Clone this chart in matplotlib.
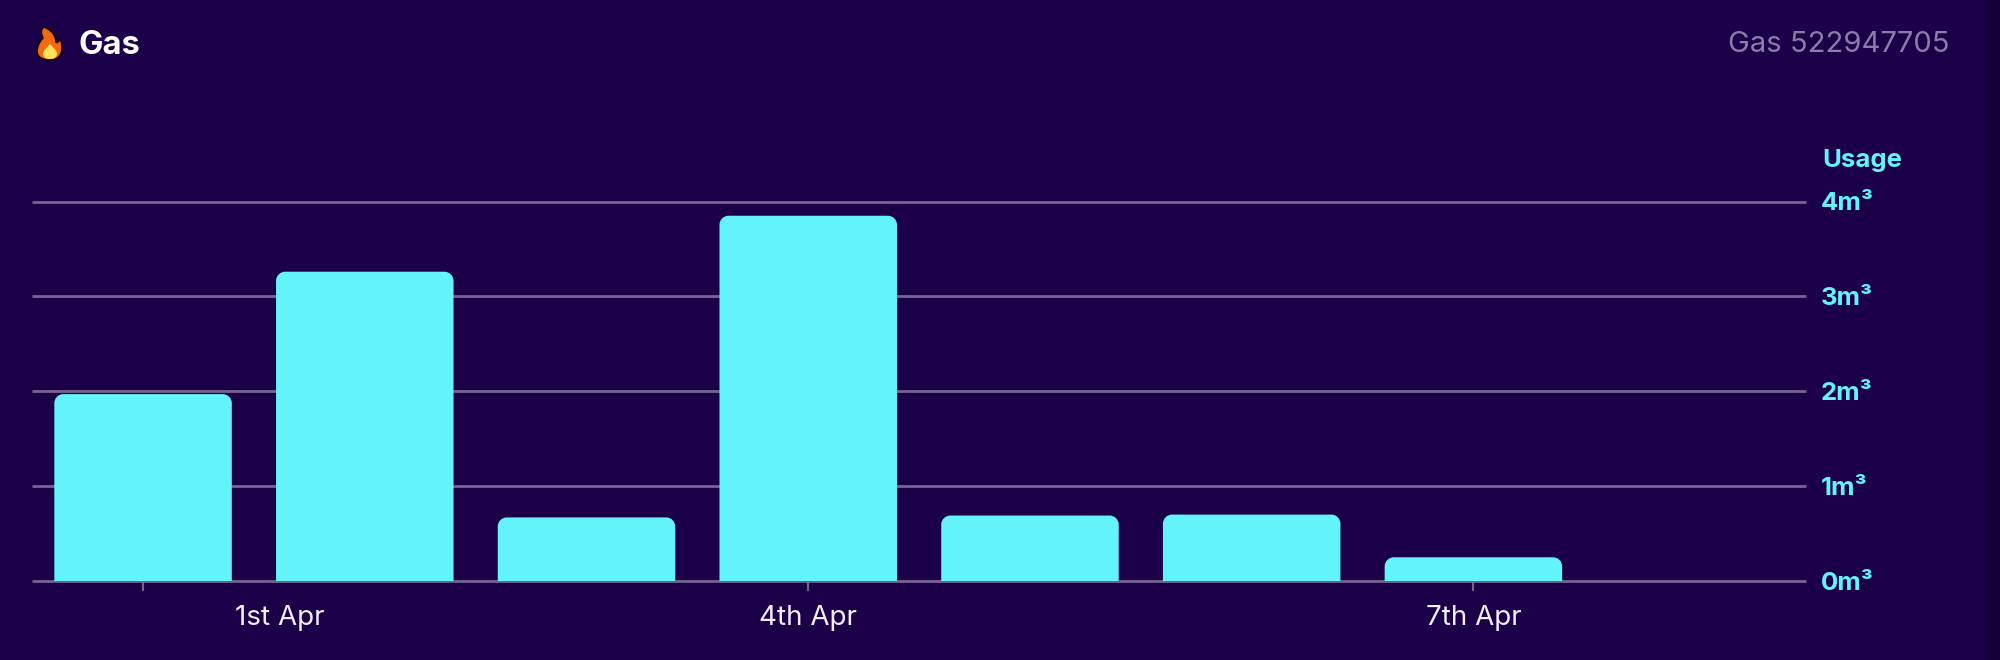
import matplotlib
matplotlib.use("Agg")
import matplotlib.pyplot as plt
from matplotlib.patches import PathPatch, Rectangle
from matplotlib.path import Path

days = ["31st Mar", "1st Apr", "2nd Apr", "3rd Apr", "4th Apr", "5th Apr", "6th Apr", "7th Apr"]
usage = [1.97, 3.26, 0.67, 3.85, 0.69, 0.70, 0.25]
y_ticks = [0, 1, 2, 3, 4]
y_labels = ["0m³", "1m³", "2m³", "3m³", "4m³"]
x_tick_pos = [0, 3, 6]
x_tick_labels = ["1st Apr", "4th Apr", "7th Apr"]
x_label_offsets = [137, 0, 0]

BG = "#1B0049"
EDGE = "#140036"
CYAN = "#62F3FB"
GRID = "#75648F"
FONT = ["Inter", "DejaVu Sans"]

W, H = 2000, 660
L, R, B, T = 32.2, 1806, 581, 201.5

fig = plt.figure(figsize=(W / 100, H / 100), dpi=100, facecolor=BG)
ax = fig.add_axes([L / W, 1 - B / H, (R - L) / W, (B - T) / H], facecolor="none")
ax.set_xlim(-0.5, 7.5)
ax.set_ylim(0, 4)
for s in ax.spines.values():
    s.set_visible(False)

for yv in y_ticks:
    ax.axhline(yv, color=GRID, lw=2, zorder=1, clip_on=False, solid_capstyle="butt")

pitch = (R - L) / 8
bar_w = 177.5 / pitch
rx = 9 / pitch
ry = 9 / ((B - T) / 4)
k = 0.45
for i, v in enumerate(usage):
    x0, x1 = i - bar_w / 2, i + bar_w / 2
    verts = [(x0, 0), (x0, v - ry), (x0, v - ry * k), (x0 + rx * k, v), (x0 + rx, v),
             (x1 - rx, v), (x1 - rx * k, v), (x1, v - ry * k), (x1, v - ry), (x1, 0), (x0, 0)]
    codes = [Path.MOVETO, Path.LINETO, Path.CURVE4, Path.CURVE4, Path.CURVE4,
             Path.LINETO, Path.CURVE4, Path.CURVE4, Path.CURVE4, Path.LINETO, Path.CLOSEPOLY]
    ax.add_patch(PathPatch(Path(verts, codes), fc=CYAN, ec="none", zorder=2))

ax.set_yticks([])
ax.set_xticks(x_tick_pos)
ax.set_xticklabels([])
ax.tick_params(axis="x", length=7.5, width=1.5, color=GRID)

ov = fig.add_axes([0, 0, 1, 1], facecolor="none")
ov.set_xlim(0, W)
ov.set_ylim(H, 0)
ov.axis("off")

ov.add_patch(Rectangle((1985, 0), 15, H, fc=EDGE, ec="none"))

for yv, lab in zip(y_ticks, y_labels):
    ov.text(1821, B - yv * (B - T) / 4 + 2, lab, color=CYAN, fontsize=18.5, fontweight="bold",
            family=FONT, ha="left", va="center")
ov.text(1822, 160, "Usage", color=CYAN, fontsize=18.5, fontweight="bold", family=FONT,
        ha="left", va="center")

for pos, lab, off in zip(x_tick_pos, x_tick_labels, x_label_offsets):
    ov.text(L + (pos + 0.5) * pitch + off, 618, lab, color="#F2EDF8", fontsize=20,
            family=FONT, ha="center", va="center")

ov.text(78, 45, "Gas", color="white", fontsize=23.5, fontweight="bold", family=FONT,
        ha="left", va="center")
ov.text(1950, 45, "Gas 522947705", color="#8C7CA8", fontsize=21, family=FONT,
        ha="right", va="center")

# flame icon
C = Path.CURVE4
outer_v = [(44, 27), (40, 30), (41, 34), (43, 38), (38, 43), (37, 48), (37, 52),
           (38, 58), (43, 60), (50, 60), (58, 60), (62, 55), (62, 48),
           (62, 44), (61, 40), (60, 38), (59, 42), (57, 43), (56, 42),
           (56, 36), (52, 30), (44, 27), (44, 27)]
outer_c = [Path.MOVETO] + [C] * 21 + [Path.CLOSEPOLY]
ov.add_patch(PathPatch(Path(outer_v, outer_c), fc="#F26A0F", ec="#140010", lw=1.2))
inner_v = [(50, 44), (47, 48), (43, 50), (43, 54), (43, 57), (46, 59), (50, 59),
           (54, 59), (57, 57), (57, 54), (57, 50), (53, 48), (50, 44), (50, 44)]
inner_c = [Path.MOVETO] + [C] * 12 + [Path.CLOSEPOLY]
ov.add_patch(PathPatch(Path(inner_v, inner_c), fc="#FFE45C", ec="none"))

fig.savefig("out.png", dpi=100, facecolor=BG)
